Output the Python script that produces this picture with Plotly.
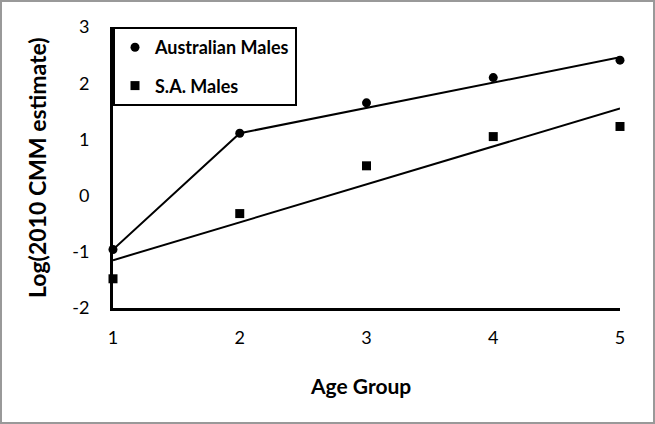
import plotly.graph_objects as go

# Data
age_groups = [1, 2, 3, 4, 5]
aus_males = [-0.96, 1.11, 1.65, 2.10, 2.41]
sa_males = [-1.48, -0.32, 0.53, 1.05, 1.23]

# Fitted lines as drawn in the reference
aus_line_x = [1, 2, 5]
aus_line_y = [-0.96, 1.11, 2.46]
sa_line_x = [1, 5]
sa_line_y = [-1.15, 1.55]

x_ticks = [1, 2, 3, 4, 5]
y_ticks = [-2, -1, 0, 1, 2, 3]
y_tick_text = ["-2", "-1", "0", "1", "2", "3"]

W, H = 655, 424
ML, MR, MT, MB = 113, 35, 27, 116
PW, PH = W - ML - MR, H - MT - MB

FONT = "Lato"

fig = go.Figure()
fig.add_trace(go.Scatter(x=aus_line_x, y=aus_line_y, mode="lines",
                         line=dict(color="black", width=2), showlegend=False,
                         hoverinfo="skip", cliponaxis=False))
fig.add_trace(go.Scatter(x=sa_line_x, y=sa_line_y, mode="lines",
                         line=dict(color="black", width=2), showlegend=False,
                         hoverinfo="skip", cliponaxis=False))
fig.add_trace(go.Scatter(x=age_groups, y=aus_males, mode="markers",
                         name="Australian Males", legendgroup="a",
                         marker=dict(symbol="circle", size=9, color="black"),
                         cliponaxis=False))
fig.add_trace(go.Scatter(x=age_groups, y=sa_males, mode="markers",
                         name="S.A. Males", legendgroup="b",
                         marker=dict(symbol="square", size=9, color="black"),
                         cliponaxis=False))

fig.update_layout(
    width=W, height=H,
    margin=dict(l=ML, r=MR, t=MT, b=MB),
    paper_bgcolor="white", plot_bgcolor="white",
    font=dict(family=FONT, color="black", size=17),
    showlegend=True,
    legend=dict(x=0, y=1, xanchor="left", yanchor="top",
                bordercolor="black", borderwidth=2, bgcolor="white",
                font=dict(family=FONT, size=18, weight="bold"),
                traceorder="grouped", tracegroupgap=12,
                itemwidth=30),
    xaxis=dict(range=[1, 5], tickvals=x_ticks, showgrid=False, zeroline=False,
               showline=True, linecolor="black", linewidth=3, ticks="",
               ticklabelstandoff=11, tickfont=dict(size=18)),
    yaxis=dict(range=[-2, 3], tickvals=y_ticks, ticktext=y_tick_text,
               showgrid=False, zeroline=False,
               showline=True, linecolor="black", linewidth=3, ticks="",
               ticklabelstandoff=17, tickfont=dict(size=18)),
    annotations=[
        dict(text="<b>Age Group</b>", xref="paper", yref="paper",
             x=(360 - ML) / PW, y=-(385 - MT - PH) / PH, xanchor="center",
             yanchor="middle", showarrow=False, font=dict(size=21)),
        dict(text="<b>Log(2010 CMM estimate)</b>", xref="paper", yref="paper",
             x=(37 - ML) / PW, y=(MT + PH - 168) / PH, xanchor="center",
             yanchor="middle", textangle=-90, showarrow=False,
             font=dict(size=23)),
    ],
    shapes=[
        dict(type="rect", xref="paper", yref="paper",
             x0=(1 - ML) / PW, x1=(W - 1 - ML) / PW,
             y0=-(H - 1 - MT - PH) / PH, y1=(PH + MT - 1) / PH,
             line=dict(color="#999999", width=2), layer="below"),
    ],
)

fig.write_html("out.html", config={"displayModeBar": False},
               post_script="document.body.style.margin='0';")
